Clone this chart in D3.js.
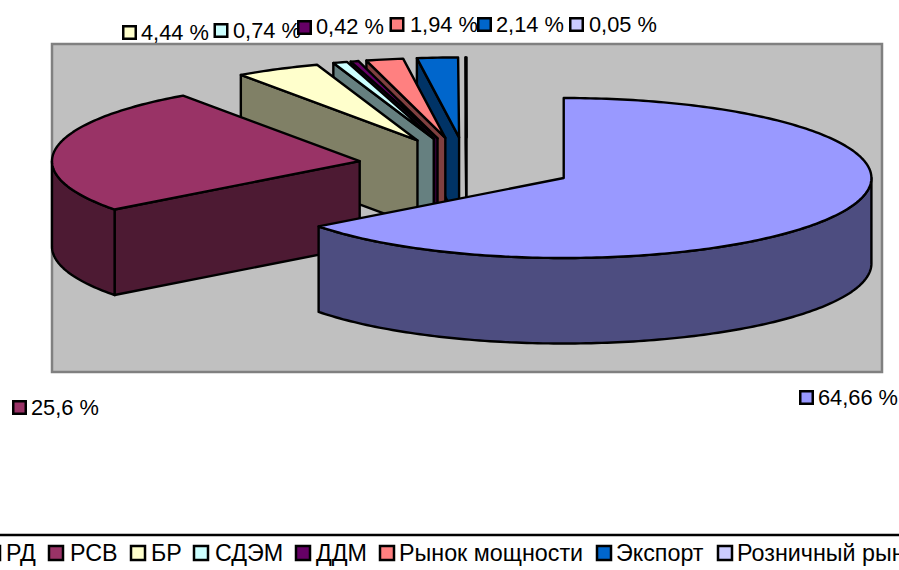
<!DOCTYPE html>
<html><head><meta charset="utf-8">
<script src="https://cdnjs.cloudflare.com/ajax/libs/d3/7.8.5/d3.min.js"></script>
<style>html,body{margin:0;padding:0;background:#fff;overflow:hidden}svg{display:block}text{font-family:"Liberation Sans",Arial,sans-serif;fill:#000}</style>
</head><body><svg id="c" width="899" height="570"></svg>
<script>
const categories=["РД","РСВ","БР","СДЭМ","ДДМ","Рынок мощности","Экспорт","Розничный рынок"];
const values=[64.66,25.6,4.44,0.74,0.42,1.94,2.14,0.05];
const valueLabels=["64,66 %","25,6 %","4,44 %","0,74 %","0,42 %","1,94 %","2,14 %","0,05 %"];
const colors=["#9999FF","#993366","#FFFFCC","#CCFFFF","#660066","#FF8080","#0066CC","#CCCCFF"];

const labelKeyX=[799,12,122,213.5,297,389.5,477,569];
const labelKeyY=[390,400,25,23,20,17,17,17];
const labelTextX=[818,31,141,233,316,410,496,589];
const labelTextY=[405,415,40,38,34,32,32,32];
const legendKeyX=[-14,49,131,194,296,380,597,718];
const legendTextX=[6,70,151,215,316,399,616,737];

const FS=21.8, LFS=23.3, W=899, H=570;
const plot={x:52,y:44,w:830,h:328};
const cx=466.7, cy=165.5, rx=307.7, ry=80, depth=85.5, explode=0.352;

const svg=d3.select("#c");
svg.append("rect").attr("x",plot.x).attr("y",plot.y).attr("width",plot.w).attr("height",plot.h)
  .attr("fill","#C0C0C0").attr("stroke","#808080").attr("stroke-width",2.5);

const arcs=d3.pie().sort(null).startAngle(0).endAngle(2*Math.PI)(values);
const line=d3.line().curve(d3.curveLinear);
const STEP=Math.PI/180;

function sample(a0,a1){
  const n=Math.max(1,Math.ceil((a1-a0)/STEP));
  return d3.range(n+1).map(i=>a0+(a1-a0)*i/n);
}
const g=svg.append("g").attr("stroke","#000").attr("stroke-width",2.4).attr("stroke-linejoin","round");

arcs.map((a,i)=>({a,i})).reverse().forEach(({a,i})=>{
  const mid=(a.startAngle+a.endAngle)/2;
  const ox=cx+explode*rx*Math.sin(mid), oy=cy-explode*ry*Math.cos(mid);
  const pt=t=>[ox+rx*Math.sin(t),oy-ry*Math.cos(t)];
  const side=d3.rgb(colors[i]); const dark=d3.rgb(side.r/2,side.g/2,side.b/2).formatHex();
  const down=p=>[p[0],p[1]+depth];
  if(a.startAngle>Math.PI){
    const p=pt(a.startAngle);
    g.append("path").attr("d",line([[ox,oy],p,down(p),down([ox,oy])])+"Z").attr("fill",dark);
  }
  const r0=Math.max(a.startAngle,Math.PI/2), r1=Math.min(a.endAngle,3*Math.PI/2);
  if(r1>r0){
    const top=sample(r0,r1).map(pt);
    g.append("path").attr("d",line(top.concat(top.slice().reverse().map(down)))+"Z").attr("fill",dark);
  }
  g.append("path").attr("d",line([[ox,oy]].concat(sample(a.startAngle,a.endAngle).map(pt)))+"Z").attr("fill",colors[i]);
});

valueLabels.forEach((t,i)=>{
  svg.append("rect").attr("x",labelKeyX[i]+1.25).attr("y",labelKeyY[i]+1.25).attr("width",12.5).attr("height",12.5)
    .attr("fill",colors[i]).attr("stroke","#000").attr("stroke-width",2.5);
  svg.append("text").attr("x",labelTextX[i]).attr("y",labelTextY[i]).attr("font-size",FS).text(t);
});

svg.append("rect").attr("x",-3).attr("y",535).attr("width",W+6).attr("height",60)
  .attr("fill","#fff").attr("stroke","#000").attr("stroke-width",2.5);
categories.forEach((t,i)=>{
  svg.append("rect").attr("x",legendKeyX[i]).attr("y",546).attr("width",14).attr("height",14)
    .attr("fill",colors[i]).attr("stroke","#000").attr("stroke-width",2.5);
  svg.append("text").attr("x",legendTextX[i]).attr("y",561).attr("font-size",LFS).text(t);
});
</script></body></html>
